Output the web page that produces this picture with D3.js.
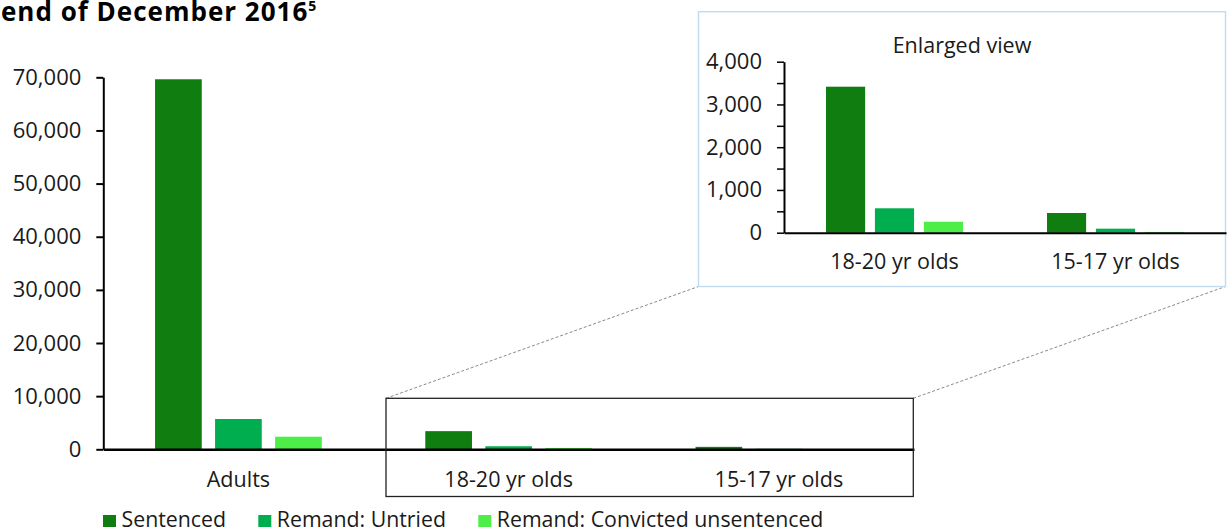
<!DOCTYPE html>
<html><head><meta charset="utf-8">
<script src="https://cdn.jsdelivr.net/npm/d3@7"></script>
<style>
body{margin:0;background:#fff}
text{font-family:"Open Sans",sans-serif;fill:#1a1a1a}
</style>
</head><body>
<svg id="c" width="1227" height="530"></svg>
<script>
// ---- data ----
const categories = ["Adults", "18-20 yr olds", "15-17 yr olds"];
const seriesNames = ["Sentenced", "Remand: Untried", "Remand: Convicted unsentenced"];
const sentenced = [69630, 3415, 461];
const untried = [5700, 571, 94];
const convicted = [2370, 257, 18];
const mainTicks = [0, 10000, 20000, 30000, 40000, 50000, 60000, 70000];
const insetCategories = ["18-20 yr olds", "15-17 yr olds"];
const insetTicks = [0, 1000, 2000, 3000, 4000];
const insetMinorTicks = [500, 1500, 2500, 3500];
const colors = ["#0f7d0f", "#00ad4f", "#4eee48"];
const titleText = "end of December 2016";
const titleSup = "5";
const insetTitle = "Enlarged view";

const valuesBySeries = [sentenced, untried, convicted];
const rows = categories.map((c, i) => ({cat: c, vals: valuesBySeries.map(s => s[i])}));

const svg = d3.select("#c");
const fmt = d3.format(",");
const tickFont = "22px";
const catFont = "21.5px";

// ---- title ----
const t = svg.append("text").attr("x", 1).attr("y", 21)
  .style("font-weight", "700").style("font-size", "26px").style("letter-spacing", "1px")
  .style("fill", "#000").text(titleText);
const tw = t.node().getComputedTextLength();
svg.append("text").attr("x", 1 + tw).attr("y", 11)
  .style("font-weight", "700").style("font-size", "14px").style("fill", "#000").text(titleSup);

// ---- main chart ----
const x0 = d3.scaleBand().domain(categories).range([103.3, 914]).paddingInner(0.383).paddingOuter(0.1915);
const x1 = d3.scaleBand().domain(seriesNames).range([0, x0.bandwidth()]).paddingInner(0.222);
const y = d3.scaleLinear().domain([0, 70000]).range([449.3, 77.3]);

const rect = {x1: 386, y1: 398.3, x2: 913.3, y2: 496.5};
const inset = {x1: 698.5, y1: 11.7, x2: 1225.5, y2: 286.5};
svg.append("line").attr("x1", rect.x1).attr("y1", rect.y1).attr("x2", inset.x1).attr("y2", inset.y2)
  .attr("stroke", "#8a8a8a").attr("stroke-width", 1).attr("stroke-dasharray", "3,2");
svg.append("line").attr("x1", rect.x2).attr("y1", rect.y1).attr("x2", inset.x2).attr("y2", inset.y2)
  .attr("stroke", "#8a8a8a").attr("stroke-width", 1).attr("stroke-dasharray", "3,2");

// bars
svg.append("g").selectAll("g.grp").data(rows).join("g").attr("class", "grp")
  .attr("transform", d => `translate(${x0(d.cat)},0)`)
  .selectAll("rect").data(d => d.vals.map((v, k) => ({v, k})))
  .join("rect")
  .attr("x", d => x1(seriesNames[d.k]))
  .attr("width", x1.bandwidth())
  .attr("y", d => y(d.v))
  .attr("height", d => y(0) - y(d.v))
  .attr("fill", d => colors[d.k]);

// y axis
const ya = svg.append("g").attr("transform", "translate(103.3,0)")
  .call(d3.axisLeft(y).tickValues(mainTicks).tickFormat(fmt).tickSize(7).tickPadding(15).tickSizeOuter(0));
ya.select(".domain").attr("stroke", "#000").attr("stroke-width", 2);
ya.selectAll(".tick line").attr("stroke", "#000").attr("stroke-width", 2);
ya.selectAll(".tick text").style("font-size", tickFont).style("font-family", '"Open Sans",sans-serif').attr("fill", "#1a1a1a");

// x axis
const xa = svg.append("g").attr("transform", "translate(0,449.3)")
  .call(d3.axisBottom(x0).tickSize(0).tickPadding(22));
xa.select(".domain").attr("stroke", "#000").attr("stroke-width", 2.5);
xa.selectAll(".tick text").style("font-size", catFont).style("font-family", '"Open Sans",sans-serif').attr("fill", "#1a1a1a");

// zoom rectangle
svg.append("rect").attr("x", rect.x1).attr("y", rect.y1)
  .attr("width", rect.x2 - rect.x1).attr("height", rect.y2 - rect.y1)
  .attr("fill", "none").attr("stroke", "#222").attr("stroke-width", 1.3);

// ---- inset ----
svg.append("rect").attr("x", inset.x1).attr("y", inset.y1)
  .attr("width", inset.x2 - inset.x1).attr("height", inset.y2 - inset.y1)
  .attr("fill", "#fff").attr("stroke", "#c4dcf1").attr("stroke-width", 1.5);

svg.append("text").attr("x", 962).attr("y", 53).attr("text-anchor", "middle")
  .style("font-size", "21.5px").text(insetTitle);

const ix0 = d3.scaleBand().domain(insetCategories).range([784, 1226]).paddingInner(0.38).paddingOuter(0.19);
const ix1 = d3.scaleBand().domain(seriesNames).range([0, ix0.bandwidth()]).paddingInner(0.2);
const iy = d3.scaleLinear().domain([0, 4000]).range([232.7, 61.7]);
const insetRows = rows.filter(r => insetCategories.includes(r.cat));

svg.append("g").selectAll("g.igrp").data(insetRows).join("g").attr("class", "igrp")
  .attr("transform", d => `translate(${ix0(d.cat)},0)`)
  .selectAll("rect").data(d => d.vals.map((v, k) => ({v, k})))
  .join("rect")
  .attr("x", d => ix1(seriesNames[d.k]))
  .attr("width", ix1.bandwidth())
  .attr("y", d => iy(d.v))
  .attr("height", d => iy(0) - iy(d.v))
  .attr("fill", d => colors[d.k]);

const iym = svg.append("g").attr("transform", "translate(784,0)")
  .call(d3.axisLeft(iy).tickValues(insetMinorTicks).tickFormat("").tickSize(7).tickSizeOuter(0));
iym.select(".domain").remove();
iym.selectAll(".tick line").attr("stroke", "#000").attr("stroke-width", 1.5);

const iya = svg.append("g").attr("transform", "translate(784,0)")
  .call(d3.axisLeft(iy).tickValues(insetTicks).tickFormat(fmt).tickSize(7).tickPadding(15).tickSizeOuter(0));
iya.select(".domain").attr("stroke", "#000").attr("stroke-width", 2);
iya.selectAll(".tick line").attr("stroke", "#000").attr("stroke-width", 1.5);
iya.selectAll(".tick text").style("font-size", tickFont).style("font-family", '"Open Sans",sans-serif').attr("fill", "#1a1a1a");

const ixa = svg.append("g").attr("transform", "translate(0,232.7)")
  .call(d3.axisBottom(ix0).tickSize(0).tickPadding(21));
ixa.select(".domain").attr("stroke", "#000").attr("stroke-width", 2);
ixa.selectAll(".tick text").style("font-size", catFont).style("font-family", '"Open Sans",sans-serif').attr("fill", "#1a1a1a");

// ---- legend ----
const legendX = [103, 258.3, 478.3];
const lg = svg.append("g").selectAll("g").data(seriesNames).join("g")
  .attr("transform", (d, i) => `translate(${legendX[i]},515)`);
lg.append("rect").attr("width", 13).attr("height", 12).attr("fill", (d, i) => colors[i]);
lg.append("text").attr("x", 18.5).attr("y", 12.3).style("font-size", "21.3px").text(d => d);
</script>
</body></html>
